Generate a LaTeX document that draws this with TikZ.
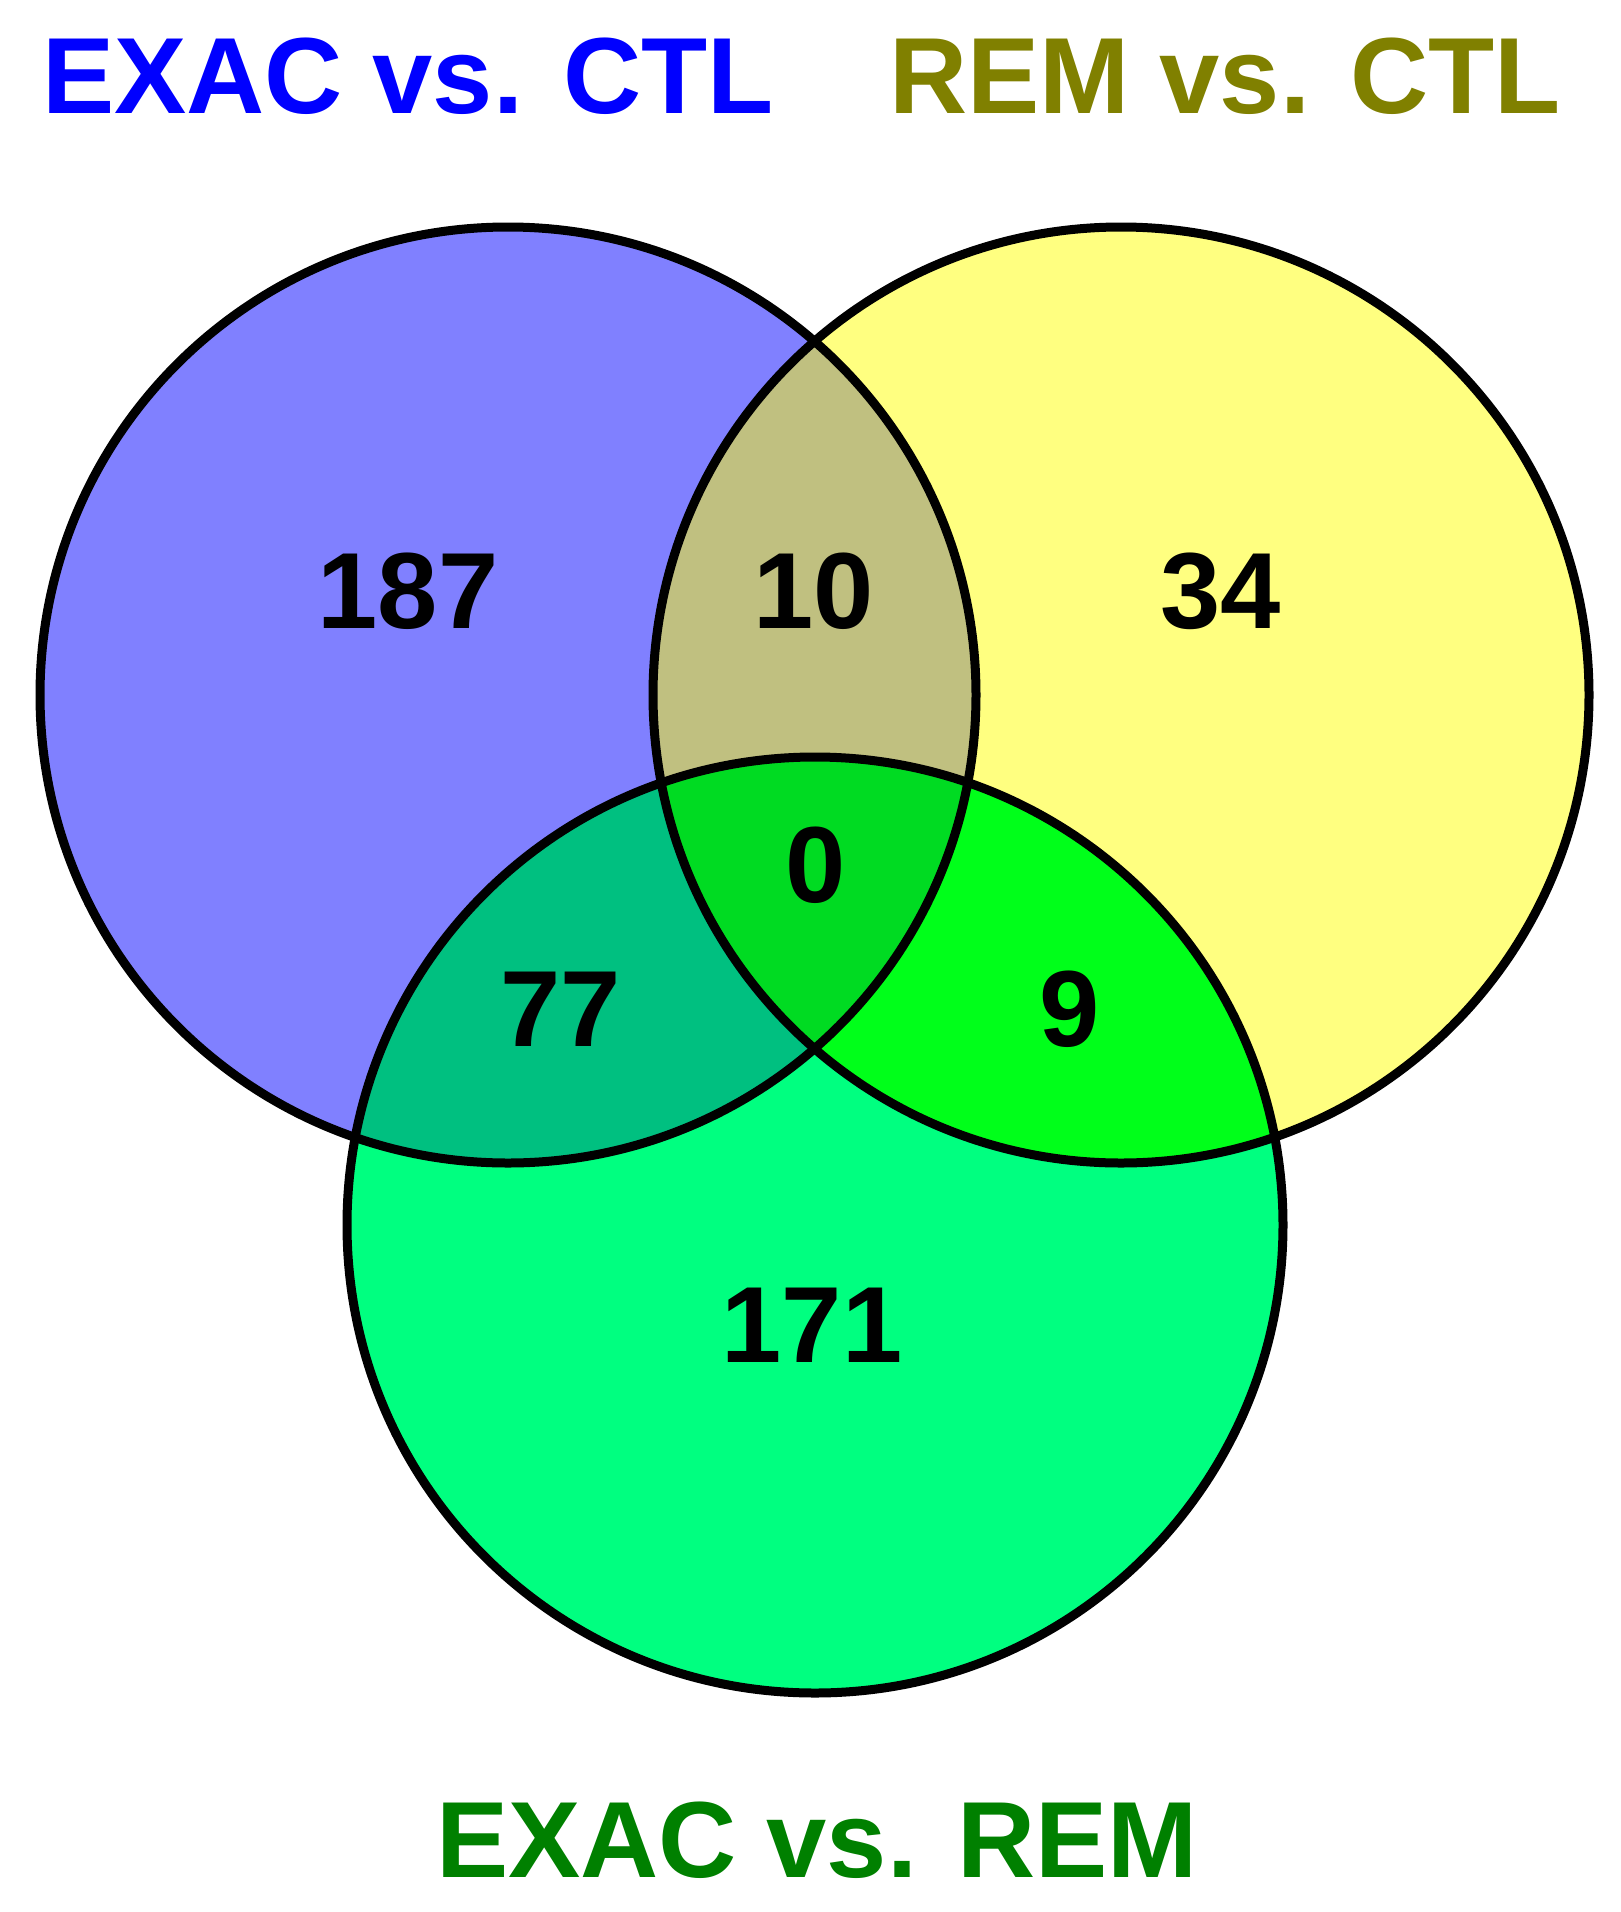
\documentclass[tikz,border=0pt]{standalone}
\usepackage{fontspec}
\setmainfont{Liberation Sans}
\definecolor{cBlue}{HTML}{8080FF}
\definecolor{cYellow}{HTML}{FFFF80}
\definecolor{cGreen}{HTML}{00FF80}
\definecolor{cBY}{HTML}{C0C080}
\definecolor{cBG}{HTML}{00C080}
\definecolor{cYG}{HTML}{00FF1A}
\definecolor{cBYG}{HTML}{00DB22}
\definecolor{tBlue}{HTML}{0000FF}
\definecolor{tOlive}{HTML}{808000}
\definecolor{tGreen}{HTML}{008000}
\tikzset{
  lbl/.style={font=\fontsize{30.8}{36}\selectfont\bfseries, inner sep=0pt, anchor=base},
  outline/.style={draw=black, line width=0.9mm},
}
\begin{document}
\begin{tikzpicture}[x=0.1mm,y=-0.1mm]
\useasboundingbox (0,0) rectangle (1620,1912);
\fill[white] (0,0) rectangle (1620,1912);
\coordinate (B) at (508,695);
\coordinate (Y) at (1121,695);
\coordinate (G) at (815,1225);
\def\R{46.8mm}
% base fills
\fill[cBlue] (B) circle[radius=\R];
\fill[cYellow] (Y) circle[radius=\R];
\fill[cGreen] (G) circle[radius=\R];
% pairwise intersections
\begin{scope}
  \clip (B) circle[radius=\R];
  \fill[cBY] (Y) circle[radius=\R];
  \fill[cBG] (G) circle[radius=\R];
\end{scope}
\begin{scope}
  \clip (Y) circle[radius=\R];
  \fill[cYG] (G) circle[radius=\R];
\end{scope}
\begin{scope}
  \clip (B) circle[radius=\R];
  \clip (Y) circle[radius=\R];
  \fill[cBYG] (G) circle[radius=\R];
\end{scope}
% outlines
\draw[outline] (B) circle[radius=\R];
\draw[outline] (Y) circle[radius=\R];
\draw[outline] (G) circle[radius=\R];
% titles
\node[lbl, text=tBlue] (t1) at (408,113) {EXAC vs. CTL};
\node[lbl, text=tOlive] (t2) at (1225,113) {REM vs. CTL};
\node[lbl, text=tGreen] (t3) at (817,1877) {EXAC vs. REM};
% counts
\node[lbl] (n187) at (408,628) {187};
\node[lbl] (n10) at (814,628) {10};
\node[lbl] (n34) at (1221,628) {34};
\node[lbl] (n0) at (816,902) {0};
\node[lbl] (n77) at (561,1046) {77};
\node[lbl] (n9) at (1070,1046) {9};
\node[lbl] (n171) at (812,1362) {171};
\end{tikzpicture}
\end{document}
